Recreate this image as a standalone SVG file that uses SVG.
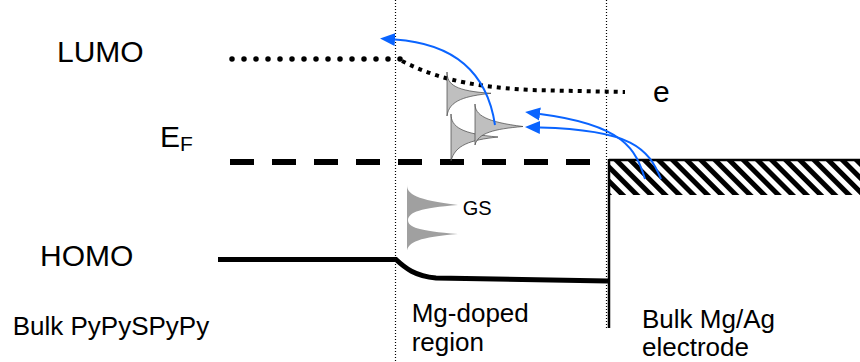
<svg xmlns="http://www.w3.org/2000/svg" width="860" height="362" viewBox="0 0 860 362">
  <style>
    text { font-family: "Liberation Sans", Arial, sans-serif; fill: #000; }
    .big { font-size: 30px; }
    .lab { font-size: 26px; }
    .divider { stroke: #000; stroke-width: 1.2; stroke-dasharray: 1 2; fill: none; }
    .arrow { fill: none; stroke: #0a64ff; stroke-width: 2; marker-end: url(#ah); }
    .gap { fill: #bfbfbf; stroke: #444; stroke-width: 0.7; }
  </style>
  <defs>
    <marker id="ah" markerUnits="userSpaceOnUse" markerWidth="16" markerHeight="14" viewBox="0 -7 16 14" refX="0" refY="0" orient="auto">
      <path d="M0,-6.5 L15,0 L0,6.5 Z" fill="#0a64ff"/>
    </marker>
    <pattern id="hatch" patternUnits="userSpaceOnUse" width="10" height="10" patternTransform="rotate(-45)">
      <rect x="0" y="0" width="10" height="10" fill="#fff"/>
      <rect x="0" y="0" width="5" height="10" fill="#000"/>
    </pattern>
  </defs>

  <rect width="860" height="362" fill="#fff"/>

  <!-- region dividers -->
  <g id="dividers">
    <line class="divider" x1="395.5" y1="0" x2="395.5" y2="362"/>
    <line class="divider" x1="606.5" y1="0" x2="606.5" y2="330"/>
  </g>

  <!-- energy levels -->
  <g id="lumo-level">
    <line x1="232" y1="59" x2="401" y2="59" stroke="#000" stroke-width="5.5" stroke-linecap="round" stroke-dasharray="0 12"/>
    <path d="M402,61 C430,75 460,86 530,90 L625,92" fill="none" stroke="#000" stroke-width="4" stroke-dasharray="4 5"/>
  </g>
  <g id="fermi-level">
    <line x1="230" y1="162" x2="590" y2="162" stroke="#000" stroke-width="6" stroke-dasharray="24 18"/>
  </g>
  <g id="homo-level">
    <path d="M218,259.5 L396,259.5 C405,268 415,276 436,278 L608,281" fill="none" stroke="#000" stroke-width="5"/>
  </g>
  <g id="electrode">
    <rect x="609" y="160" width="251" height="35" fill="url(#hatch)"/>
    <line x1="609" y1="160" x2="860" y2="160" stroke="#000" stroke-width="2.5"/>
    <line x1="609" y1="159" x2="609" y2="328" stroke="#000" stroke-width="2.5"/>
  </g>

  <!-- gap states -->
  <g id="gap-states">
    <path class="gap" d="M451,114 C451,127 462,134 498,137 C470,140 455,145 451,161 Z"/>
    <path class="gap" d="M447,72 C447,85 456,91 491,93.3 C466,96 449,100 447,116 Z"/>
    <path class="gap" d="M475,104 C475,115 486,122 523,126.5 C494,129 478,133 475,145 Z"/>
  </g>
  <g id="ground-states">
    <path d="M407,185 C407,194 416,200 458,205 C420,208 409,212 408,220 C408,227 418,231 458,234 C420,237 407,242 407,252 Z" fill="#a0a0a0"/>
  </g>

  <!-- connectors -->
  <g id="connectors">
    <path class="arrow" d="M495,125 C488,78 460,44 395,39.5"/>
    <path class="arrow" d="M645,179 C636,150 625,125 540,114"/>
    <path class="arrow" d="M661,179 C648,148 632,130 540,127.5"/>
  </g>

  <!-- labels -->
  <g id="labels">
    <text class="big" x="57" y="61.7">LUMO</text>
    <text class="big" x="160" y="146.7">E<tspan font-size="21" dy="4">F</tspan></text>
    <text class="big" x="40" y="266">HOMO</text>
    <text class="big" x="653" y="102">e</text>
    <text x="462.7" y="215" font-size="20">GS</text>
    <text class="lab" x="12.7" y="335">Bulk PyPySPyPy</text>
    <text class="lab" x="411.7" y="321.7">Mg-doped</text>
    <text class="lab" x="411.7" y="351">region</text>
    <text class="lab" x="642" y="328">Bulk Mg/Ag</text>
    <text class="lab" x="642" y="355.5">electrode</text>
  </g>
</svg>
